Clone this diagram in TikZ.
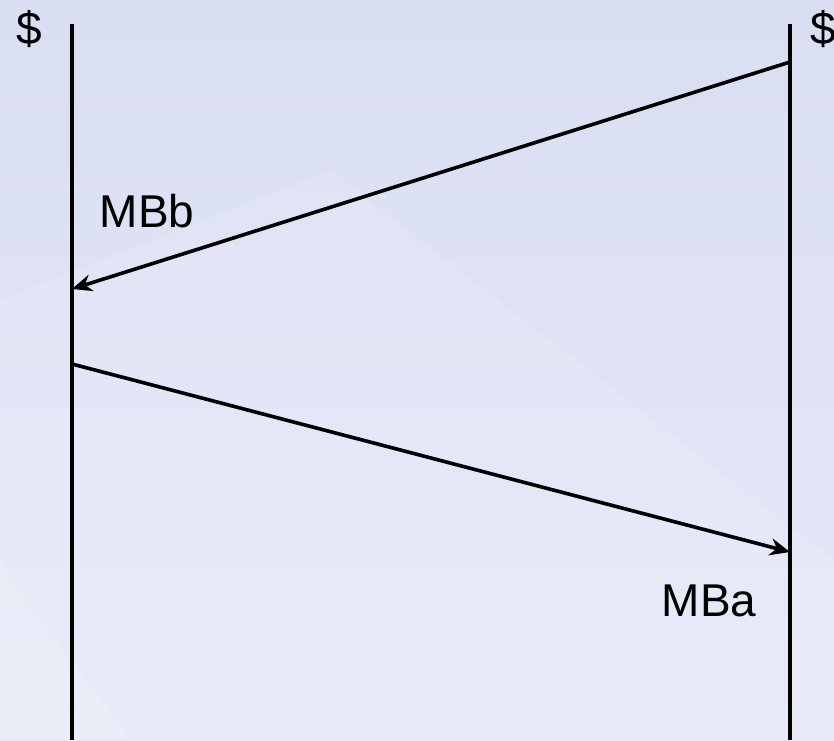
\documentclass[tikz,border=0pt]{standalone}
\usepackage{fontspec}
\setmainfont{Liberation Sans}
\usetikzlibrary{arrows.meta,calc,positioning}

\definecolor{bgtop}{HTML}{DADEF3}
\definecolor{bgbot}{HTML}{E5E8F6}

\begin{document}
\begin{tikzpicture}[x=1pt,y=-1pt]
\fill[top color=bgtop,bottom color=bgbot] (0,0) rectangle (834,740);
\fill[white,opacity=0.12] (0,300) -- (330,170) -- (834,560) -- (834,740) -- (0,740) -- cycle;
\fill[white,opacity=0.15] (0,560) -- (130,740) -- (0,740) -- cycle;
\useasboundingbox (0,0) rectangle (834,740);

\coordinate (lt) at (72,24);
\coordinate (lb) at (72,740);
\coordinate (rt) at (790,24);
\coordinate (rb) at (790,740);

\draw [line width=4pt] (lt) to (lb);
\draw [line width=4pt] (rt) to (rb);

\coordinate (r1) at (790,62);
\coordinate (l1) at (72,289);
\coordinate (l2) at (72,364);
\coordinate (r2) at (790,552);

\draw [line width=3.6pt,-{Stealth[length=20pt,width=17pt]}] (r1) to (l1);
\draw [line width=3.6pt,-{Stealth[length=20pt,width=17pt]}] (l2) to (r2);

\node (dl) at (29,29) {\fontsize{46}{48}\selectfont \$};
\node (dr) at (823,29) {\fontsize{46}{48}\selectfont \$};
\node (mbb) at (147,211) {\fontsize{46}{48}\selectfont MBb};
\node (mba) at (709,601) {\fontsize{46}{48}\selectfont MBa};
\end{tikzpicture}
\end{document}
